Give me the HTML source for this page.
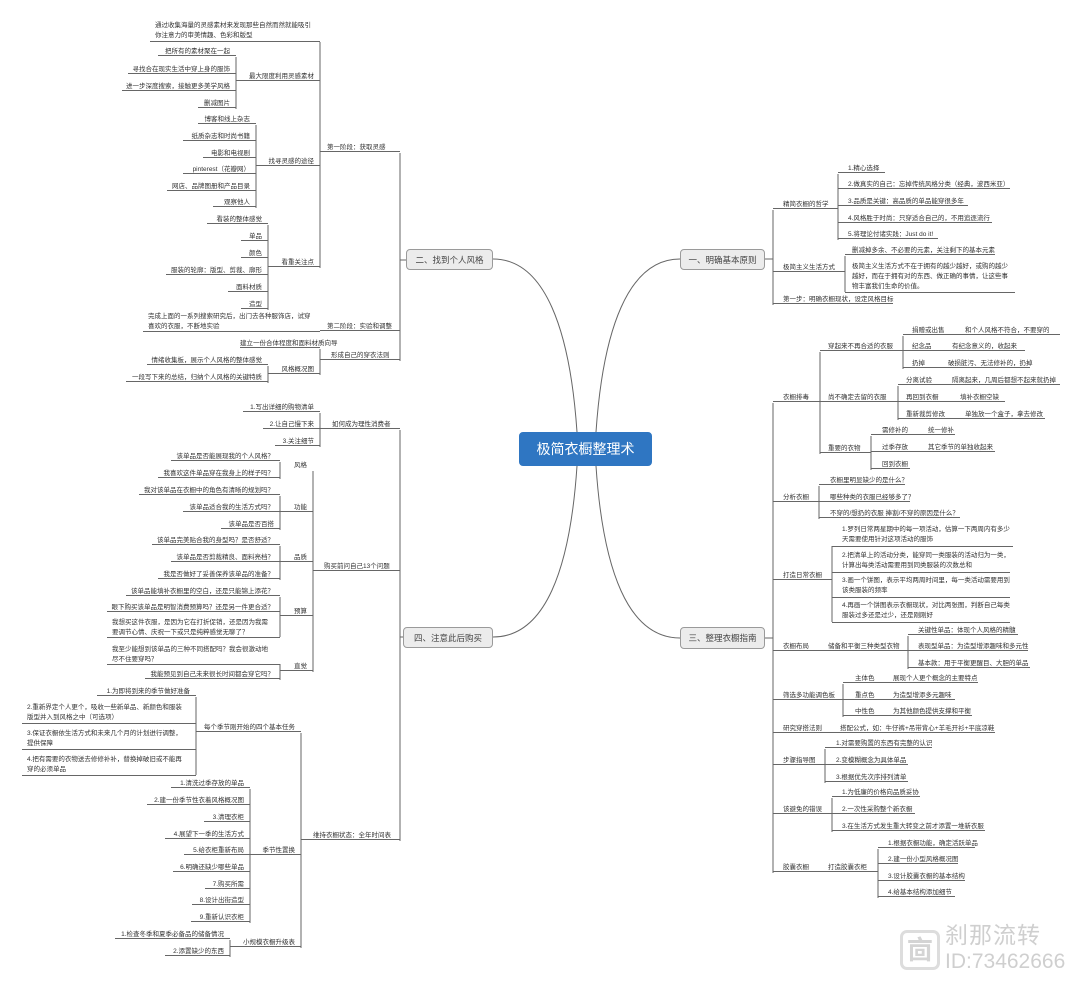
<!DOCTYPE html>
<html><head><meta charset="utf-8">
<style>
*{margin:0;padding:0;box-sizing:border-box}
body{width:1080px;height:982px;background:#fff;position:relative;overflow:hidden;font-family:"Liberation Sans","Noto Sans CJK SC",sans-serif;color:#333}
.l,.r{position:absolute;font-size:6.5px;line-height:9px;height:9px;white-space:nowrap;border-bottom:1px solid #666}
.l{text-align:right;padding-right:6px}
.r{text-align:left;padding-left:7px}
.m{white-space:normal;line-height:10px;height:auto}
.l.m{text-align:left;padding-left:5px}
.r span{display:inline-block}
.box{position:absolute;background:#ececec;border:1px solid #9a9a9a;border-radius:4px;font-size:8.5px;line-height:20px;text-align:center;color:#444}
svg{position:absolute;left:0;top:0}
</style></head><body>
<svg width="1080" height="982" fill="none" stroke="#666" stroke-width="1">
<path d="M577,432 C570,330 545,259 493,259"/>
<path d="M577,466 C570,570 545,637 493,637"/>
<path d="M596,432 C603,330 628,259 680,259"/>
<path d="M596,466 C603,570 628,638 680,638"/>
<path d="M400,153 V361 M400,260 H406"/>
<path d="M320,42 V268"/>
<path d="M236,57 V109"/>
<path d="M256,125 V208"/>
<path d="M268,225 V310"/>
<path d="M320,349 V375"/>
<path d="M268,366 V383"/>
<path d="M400,430 V841 M400,637 H403"/>
<path d="M320,413 V447"/>
<path d="M313,471 V672"/>
<path d="M280,462 V479"/>
<path d="M280,496 V530"/>
<path d="M280,546 V580"/>
<path d="M280,597 V637"/>
<path d="M280,664 V680"/>
<path d="M196,697 V775"/>
<path d="M301,733 V948"/>
<path d="M250,789 V923"/>
<path d="M230,940 V957"/>
<path d="M773,210 V305 M765,259 H773"/>
<path d="M838,174 V240"/>
<path d="M845,256 V292"/>
<path d="M773,403 V873 M765,638 H773"/>
<path d="M820,352 V454"/>
<path d="M903,336 V369"/>
<path d="M898,386 V420"/>
<path d="M871,436 V470"/>
<path d="M819,486 V519"/>
<path d="M832,546 V622"/>
<path d="M908,636 V669"/>
<path d="M843,684 V717"/>
<path d="M825,749 V783"/>
<path d="M832,798 V832"/>
<path d="M878,849 V898"/>
</svg>

<div class="box" style="left:519px;top:432px;width:133px;height:34px;background:#2f76c2;border-color:#2f76c2;color:#fff;font-size:14px;line-height:32px">极简衣橱整理术</div>
<div class="box" style="left:406px;top:249px;width:87px;height:21px">二、找到个人风格</div>
<div class="box" style="left:403px;top:627px;width:90px;height:21px">四、注意此后购买</div>
<div class="box" style="left:680px;top:249px;width:85px;height:21px">一、明确基本原则</div>
<div class="box" style="left:680px;top:627px;width:85px;height:22px">三、整理衣橱指南</div>

<div class="l m" style="left:150px;top:21px;width:170px;height:21px;padding-right:8px">通过收集海量的灵感素材来发现那些自然而然就能吸引你注意力的审美情趣、色彩和版型</div>
<div class="l" style="left:236px;top:72px;width:84px">最大限度利用灵感素材</div>
<div class="l" style="left:158px;top:47px;width:78px">把所有的素材聚在一起</div>
<div class="l" style="left:128px;top:65px;width:108px">寻找合在现实生活中穿上身的服饰</div>
<div class="l" style="left:122px;top:82px;width:114px">进一步深度搜索，接触更多美学风格</div>
<div class="l" style="left:198px;top:99px;width:38px">删减图片</div>
<div class="l" style="left:256px;top:157px;width:64px">找寻灵感的途径</div>
<div class="l" style="left:198px;top:115px;width:58px">博客和线上杂志</div>
<div class="l" style="left:183px;top:132px;width:73px">纸质杂志和时尚书籍</div>
<div class="l" style="left:203px;top:149px;width:53px">电影和电视剧</div>
<div class="l" style="left:183px;top:165px;width:73px">pinterest（花瓣网）</div>
<div class="l" style="left:167px;top:182px;width:89px">网店、品牌图册和产品目录</div>
<div class="l" style="left:213px;top:198px;width:43px">观察他人</div>
<div class="l" style="left:268px;top:258px;width:52px">看重关注点</div>
<div class="l" style="left:207px;top:215px;width:61px">看装的整体感觉</div>
<div class="l" style="left:241px;top:232px;width:27px">单品</div>
<div class="l" style="left:241px;top:249px;width:27px">颜色</div>
<div class="l" style="left:166px;top:266px;width:102px">服装的轮廓：版型、剪裁、廓形</div>
<div class="l" style="left:228px;top:283px;width:40px">面料材质</div>
<div class="l" style="left:241px;top:300px;width:27px">造型</div>
<div class="r" style="left:320px;top:143px;width:80px">第一阶段：获取灵感</div>
<div class="l m" style="left:143px;top:312px;width:177px;height:20px;padding-right:8px">完成上面的一系列搜索研究后，出门去各种服饰店，试穿喜欢的衣服，不断地实验</div>
<div class="r" style="left:320px;top:322px;width:80px">第二阶段：实验和调整</div>
<div class="r" style="left:320px;top:351px;width:80px;padding-left:11px">形成自己的穿衣法则</div>
<div class="l" style="left:240px;top:339px;width:80px">建立一份合体程度和面料材质向导</div>
<div class="l" style="left:268px;top:365px;width:52px">风格概况图</div>
<div class="l" style="left:147px;top:356px;width:121px">情绪收集板，展示个人风格的整体感觉</div>
<div class="l" style="left:126px;top:373px;width:142px">一段写下来的总结，归纳个人风格的关键特质</div>

<div class="r" style="left:320px;top:420px;width:80px;padding-left:12px">如何成为理性消费者</div>
<div class="l" style="left:243px;top:403px;width:77px">1.写出详细的购物清单</div>
<div class="l" style="left:263px;top:420px;width:57px">2.让自己慢下来</div>
<div class="l" style="left:275px;top:437px;width:45px">3.关注细节</div>
<div class="r" style="left:313px;top:562px;width:87px;padding-left:11px">购买前问自己13个问题</div>
<div class="l" style="left:280px;top:461px;width:33px;border:none">风格</div>
<div class="l" style="left:171px;top:452px;width:109px">该单品是否能展现我的个人风格？</div>
<div class="l" style="left:158px;top:469px;width:122px">我喜欢这件单品穿在我身上的样子吗？</div>
<div class="l" style="left:280px;top:503px;width:33px">功能</div>
<div class="l" style="left:139px;top:486px;width:141px">我对该单品在衣橱中的角色有清晰的规划吗？</div>
<div class="l" style="left:183px;top:503px;width:97px">该单品适合我的生活方式吗？</div>
<div class="l" style="left:221px;top:520px;width:59px">该单品是否百搭</div>
<div class="l" style="left:280px;top:553px;width:33px">品质</div>
<div class="l" style="left:152px;top:536px;width:128px">该单品完美贴合我的身型吗？是否舒适？</div>
<div class="l" style="left:171px;top:553px;width:109px">该单品是否剪裁精良、面料亮档？</div>
<div class="l" style="left:158px;top:570px;width:122px">我是否做好了妥善保养该单品的准备？</div>
<div class="l" style="left:280px;top:607px;width:33px">预算</div>
<div class="l" style="left:126px;top:587px;width:154px">该单品能填补衣橱里的空白，还是只能锦上添花？</div>
<div class="l" style="left:107px;top:603px;width:173px">眼下购买该单品是明智消费预算吗？还是另一件更合适？</div>
<div class="l m" style="left:107px;top:618px;width:173px;height:20px;padding-right:8px">我想买这件衣服，是因为它在打折促销，还是因为我需要调节心情、庆祝一下或只是纯粹感觉无聊了？</div>
<div class="l" style="left:280px;top:662px;width:33px">直觉</div>
<div class="l m" style="left:107px;top:645px;width:173px;height:20px;padding-right:8px">我至少能想到该单品的三种不同搭配吗？我会很激动地尽不住要穿吗？</div>
<div class="l" style="left:145px;top:670px;width:135px">我能预见到自己未来很长时间都会穿它吗？</div>
<div class="r" style="left:196px;top:723px;width:105px;padding-left:8px">每个季节刚开始的四个基本任务</div>
<div class="l" style="left:97px;top:687px;width:99px">1.为即将到来的季节做好准备</div>
<div class="l m" style="left:22px;top:703px;width:174px;height:21px;padding-right:10px">2.重新界定个人更个，吸收一些新单品、新颜色和服装版型并入到风格之中（可选项）</div>
<div class="l m" style="left:22px;top:729px;width:174px;height:21px;padding-right:10px">3.保证衣橱依生活方式和未来几个月的计划进行调整，提供保障</div>
<div class="l m" style="left:22px;top:755px;width:174px;height:21px;padding-right:10px">4.把有需要的衣物送去修修补补，替换掉破旧或不能再穿的必须单品</div>
<div class="r" style="left:301px;top:831px;width:99px;padding-left:12px">维持衣橱状态：全年时间表</div>
<div class="l" style="left:250px;top:846px;width:51px">季节性置换</div>
<div class="l" style="left:171px;top:779px;width:79px">1.清洗过季存放的单品</div>
<div class="l" style="left:147px;top:796px;width:103px">2.建一份季节性衣着风格概况图</div>
<div class="l" style="left:204px;top:813px;width:46px">3.清理衣柜</div>
<div class="l" style="left:165px;top:830px;width:85px">4.展望下一季的生活方式</div>
<div class="l" style="left:184px;top:846px;width:66px">5.给衣柜重新布局</div>
<div class="l" style="left:173px;top:863px;width:77px">6.明确还缺少哪些单品</div>
<div class="l" style="left:205px;top:880px;width:45px">7.购买所需</div>
<div class="l" style="left:192px;top:896px;width:58px">8.设计出街造型</div>
<div class="l" style="left:191px;top:913px;width:59px">9.重新认识衣柜</div>
<div class="l" style="left:230px;top:938px;width:71px">小规模衣橱升级表</div>
<div class="l" style="left:115px;top:930px;width:115px">1.检查冬季和夏季必备品的储备情况</div>
<div class="l" style="left:165px;top:947px;width:65px">2.添置缺少的东西</div>

<div class="r" style="left:773px;top:200px;width:65px;padding-left:10px">精简衣橱的哲学</div>
<div class="r" style="left:838px;top:164px;width:47px;padding-left:10px">1.精心选择</div>
<div class="r" style="left:838px;top:180px;width:172px;padding-left:10px">2.做真实的自己：忘掉传统风格分类（经典，波西米亚）</div>
<div class="r" style="left:838px;top:197px;width:130px;padding-left:10px">3.品质是关键：高品质的单品能穿很多年</div>
<div class="r" style="left:838px;top:214px;width:154px;padding-left:10px">4.风格胜于时尚：只穿适合自己的，不用追逐流行</div>
<div class="r" style="left:838px;top:230px;width:100px;padding-left:10px">5.将理论付诸实践：Just do it!</div>
<div class="r" style="left:773px;top:263px;width:72px;padding-left:10px">极简主义生活方式</div>
<div class="r" style="left:845px;top:246px;width:150px">删减掉多余、不必要的元素，关注剩下的基本元素</div>
<div class="r m" style="left:845px;top:262px;width:170px;height:31px;padding-right:6px">极简主义生活方式不在于拥有的越少越好，或购的越少越好，而在于拥有对的东西、做正确的事情，让这些事物丰富我们生命的价值。</div>
<div class="r" style="left:773px;top:295px;width:120px;padding-left:10px">第一步：明确衣橱现状，设定风格目标</div>

<div class="r" style="left:773px;top:393px;width:47px;padding-left:10px">衣橱排毒</div>
<div class="r" style="left:820px;top:342px;width:83px;padding-left:8px">穿起来不再合适的衣服</div>
<div class="r" style="left:903px;top:326px;width:157px;padding-left:9px"><span style="width:53px">捐赠或出售</span>和个人风格不符合，不要穿的</div>
<div class="r" style="left:903px;top:342px;width:122px;padding-left:9px"><span style="width:40px">纪念品</span>有纪念意义的，收起来</div>
<div class="r" style="left:903px;top:359px;width:127px;padding-left:9px"><span style="width:36px">扔掉</span>破损脏污、无法修补的，扔掉</div>
<div class="r" style="left:820px;top:393px;width:78px;padding-left:8px">尚不确定去留的衣服</div>
<div class="r" style="left:898px;top:376px;width:162px;padding-left:8px"><span style="width:46px">分离试验</span>隔离起来，几周后都想不起来就扔掉</div>
<div class="r" style="left:898px;top:393px;width:107px;padding-left:8px"><span style="width:54px">再回到衣橱</span>填补衣橱空缺</div>
<div class="r" style="left:898px;top:410px;width:147px;padding-left:8px"><span style="width:59px">重新裁剪修改</span>单独放一个盒子，拿去修改</div>
<div class="r" style="left:820px;top:444px;width:51px;padding-left:8px">重要的衣物</div>
<div class="r" style="left:871px;top:426px;width:84px;padding-left:11px"><span style="width:46px">需修补的</span>统一修补</div>
<div class="r" style="left:871px;top:443px;width:124px;padding-left:11px"><span style="width:46px">过季存放</span>其它季节的单独收起来</div>
<div class="r" style="left:871px;top:460px;width:39px;padding-left:11px">回到衣橱</div>
<div class="r" style="left:773px;top:493px;width:46px;padding-left:10px">分析衣橱</div>
<div class="r" style="left:819px;top:476px;width:86px;padding-left:11px">衣橱里明显缺少的是什么？</div>
<div class="r" style="left:819px;top:493px;width:91px;padding-left:11px">哪些种类的衣服已经够多了？</div>
<div class="r" style="left:819px;top:509px;width:141px;padding-left:11px">不穿的/想扔的衣服 捧割/不穿的原因是什么？</div>
<div class="r" style="left:773px;top:571px;width:59px;padding-left:10px">打造日常衣橱</div>
<div class="r m" style="left:832px;top:525px;width:181px;height:22px;padding-left:10px">1.罗列日常两星期中的每一项活动，估算一下两周内有多少天需要使用针对这项活动的服饰</div>
<div class="r m" style="left:832px;top:551px;width:178px;height:22px;padding-left:10px">2.把清单上的活动分类，能穿同一类服装的活动归为一类，计算出每类活动需要用到同类服装的次数总和</div>
<div class="r m" style="left:832px;top:576px;width:178px;height:22px;padding-left:10px">3.画一个饼图，表示平均两周时间里，每一类活动需要用到该类服装的频率</div>
<div class="r m" style="left:832px;top:601px;width:178px;height:22px;padding-left:10px">4.再画一个饼图表示衣橱现状，对比两张图，判断自己每类服装过多还是过少，还是刚刚好</div>
<div class="r" style="left:773px;top:642px;width:135px;padding-left:10px"><span style="width:45px">衣橱布局</span>储备和平衡三种类型衣物</div>
<div class="r" style="left:908px;top:626px;width:110px;padding-left:10px">关键性单品：体现个人风格的精髓</div>
<div class="r" style="left:908px;top:642px;width:120px;padding-left:10px">表现型单品：为造型增添趣味和多元性</div>
<div class="r" style="left:908px;top:659px;width:122px;padding-left:10px">基本款：用于平衡更醒目、大胆的单品</div>
<div class="r" style="left:773px;top:691px;width:70px;padding-left:10px">筛选多功能调色板</div>
<div class="r" style="left:843px;top:674px;width:135px;padding-left:12px"><span style="width:38px">主体色</span>展现个人更个概念的主要特点</div>
<div class="r" style="left:843px;top:691px;width:112px;padding-left:12px"><span style="width:38px">重点色</span>为造型增添多元趣味</div>
<div class="r" style="left:843px;top:707px;width:129px;padding-left:12px"><span style="width:38px">中性色</span>为其他颜色提供支撑和平衡</div>
<div class="r" style="left:773px;top:724px;width:222px;padding-left:10px"><span style="width:57px">研究穿搭法则</span>搭配公式，如：牛仔裤+吊带背心+羊毛开衫+平底凉鞋</div>
<div class="r" style="left:773px;top:756px;width:52px;padding-left:10px">步骤指导图</div>
<div class="r" style="left:825px;top:739px;width:107px;padding-left:11px">1.对需要购置的东西有完整的认识</div>
<div class="r" style="left:825px;top:756px;width:83px;padding-left:11px">2.变模糊概念为具体单品</div>
<div class="r" style="left:825px;top:773px;width:83px;padding-left:11px">3.根据优先次序排列清单</div>
<div class="r" style="left:773px;top:805px;width:59px;padding-left:10px">该避免的错误</div>
<div class="r" style="left:832px;top:788px;width:88px;padding-left:10px">1.为低廉的价格向品质妥协</div>
<div class="r" style="left:832px;top:805px;width:83px;padding-left:10px">2.一次性采购整个新衣橱</div>
<div class="r" style="left:832px;top:822px;width:153px;padding-left:10px">3.在生活方式发生重大转变之前才添置一堆新衣服</div>
<div class="r" style="left:773px;top:863px;width:105px;padding-left:10px"><span style="width:45px">胶囊衣橱</span>打造胶囊衣柜</div>
<div class="r" style="left:878px;top:839px;width:97px;padding-left:10px">1.根据衣橱功能，确定活跃单品</div>
<div class="r" style="left:878px;top:855px;width:80px;padding-left:10px">2.建一份小型风格概况图</div>
<div class="r" style="left:878px;top:872px;width:87px;padding-left:10px">3.设计胶囊衣橱的基本结构</div>
<div class="r" style="left:878px;top:888px;width:77px;padding-left:10px">4.给基本结构添加细节</div>

<div style="position:absolute;left:900px;top:930px;width:40px;height:40px;border:3px solid #ddd;border-radius:7px;color:#d4d4d4;font-size:26px;line-height:34px;text-align:center;font-weight:bold">㐭</div>
<div style="position:absolute;left:945px;top:922px;color:#cfcfcf;font-size:23px;line-height:26px;letter-spacing:1px">刹那流转</div>
<div style="position:absolute;left:945px;top:950px;color:#cfcfcf;font-size:21px;line-height:24px">ID:73462666</div>
</body></html>
